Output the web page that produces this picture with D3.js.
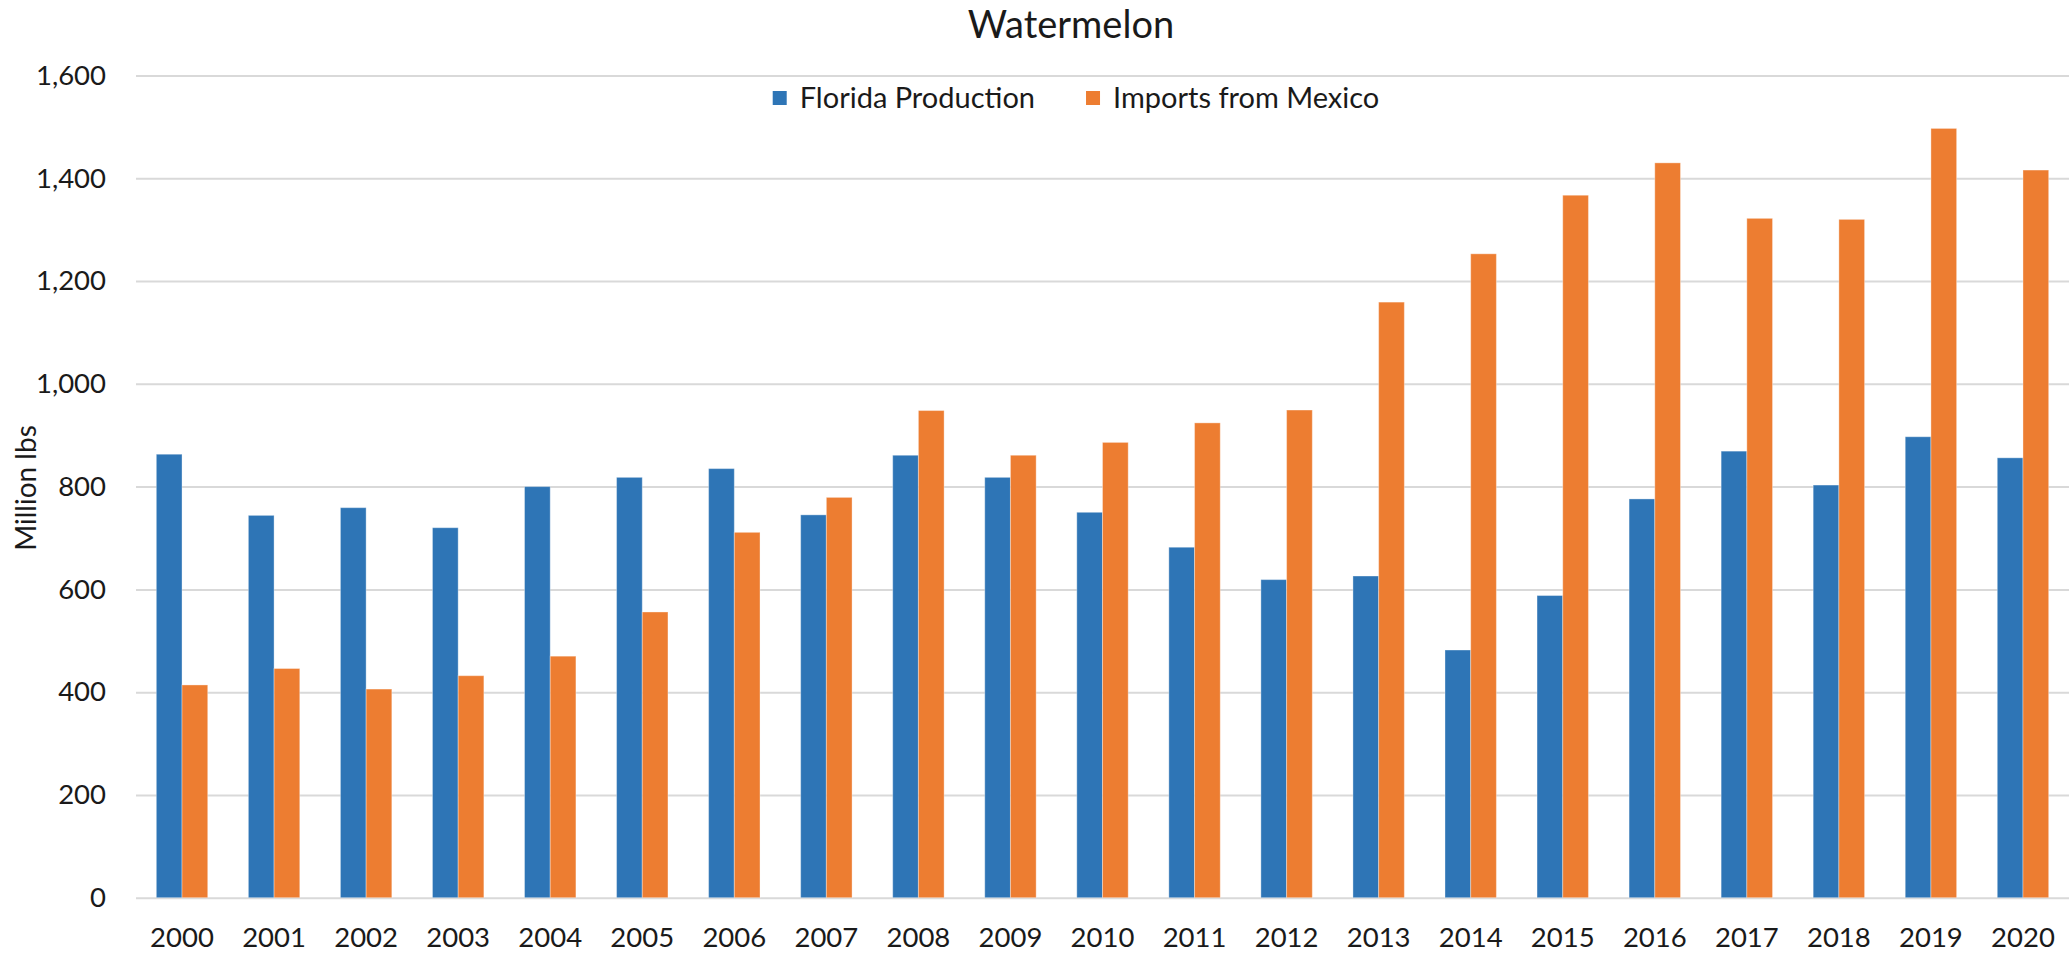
<!DOCTYPE html>
<html>
<head>
<meta charset="utf-8">
<script src="https://d3js.org/d3.v7.min.js"></script>
<title>Watermelon</title>
<style>
  body { margin: 0; background: #fff; }
  text { font-family: Lato, "Noto Sans", sans-serif; fill: #1a1a1a; }
  .grid line { stroke: #d9d9d9; stroke-width: 2; }
  .grid .domain { display: none; }
  .axis .domain { display: none; }
</style>
</head>
<body>
<div id="chart"></div>
<script>
var years = ["2000","2001","2002","2003","2004","2005","2006","2007","2008","2009","2010",
             "2011","2012","2013","2014","2015","2016","2017","2018","2019","2020"];
var floridaProduction = [863, 744, 759, 720, 800, 818, 835, 745, 861, 818, 750,
                         682, 619, 626, 482, 588, 776, 869, 803, 897, 856];
var importsMexico = [414, 446, 406, 432, 470, 556, 711, 779, 948, 861, 886,
                     924, 949, 1159, 1253, 1367, 1430, 1322, 1320, 1497, 1416];
var seriesNames = ["Florida Production", "Imports from Mexico"];
var seriesColours = ["#2e75b6", "#ed7d31"];
var yTicks = [0, 200, 400, 600, 800, 1000, 1200, 1400, 1600];

var width = 2069, height = 953;
var margin = { top: 75.5, right: 0, bottom: 55.3, left: 136 };

var rows = years.map(function (y, i) {
  return { year: y, values: [floridaProduction[i], importsMexico[i]] };
});

var svg = d3.select("#chart").append("svg")
  .attr("width", width)
  .attr("height", height);

var x = d3.scaleBand()
  .domain(years)
  .range([margin.left, width - margin.right])
  .paddingInner(0.4416)
  .paddingOuter(0.2208);

var xs = d3.scaleBand()
  .domain([0, 1])
  .range([0, x.bandwidth()]);

var y = d3.scaleLinear()
  .domain([0, 1600])
  .range([height - margin.bottom, margin.top]);

// gridlines
svg.append("g")
  .attr("class", "grid")
  .attr("transform", "translate(" + margin.left + ",0)")
  .call(d3.axisLeft(y).tickValues(yTicks).tickSize(-(width - margin.left - margin.right)).tickFormat(""));

// y axis labels
svg.append("g")
  .attr("class", "axis")
  .attr("transform", "translate(" + margin.left + ",0)")
  .call(d3.axisLeft(y).tickValues(yTicks).tickSize(0).tickPadding(30).tickFormat(d3.format(",")))
  .selectAll("text")
  .style("font-size", "27.5px")
  .style("fill", "#1a1a1a");

// x axis labels
svg.append("g")
  .attr("class", "axis")
  .attr("transform", "translate(0," + (height - margin.bottom) + ")")
  .call(d3.axisBottom(x).tickSize(0).tickPadding(30))
  .selectAll("text")
  .style("font-size", "27.5px")
  .style("fill", "#1a1a1a");

// bars
var group = svg.append("g")
  .selectAll("g")
  .data(rows)
  .enter()
  .append("g")
  .attr("transform", function (d) { return "translate(" + x(d.year) + ",0)"; });

group.selectAll("rect")
  .data(function (d) { return d.values; })
  .enter()
  .append("rect")
  .attr("x", function (d, i) { return xs(i); })
  .attr("y", function (d) { return y(d); })
  .attr("width", xs.bandwidth())
  .attr("height", function (d) { return y(0) - y(d); })
  .attr("fill", function (d, i) { return seriesColours[i]; })
  .attr("stroke", "#ffffff")
  .attr("stroke-opacity", 0.35)
  .attr("stroke-width", 1);

// title
svg.append("text")
  .attr("x", 1071)
  .attr("y", 38)
  .attr("text-anchor", "middle")
  .style("font-size", "38px")
  .text("Watermelon");

// y axis title
svg.append("text")
  .attr("transform", "translate(26,488) rotate(-90)")
  .attr("text-anchor", "middle")
  .attr("dy", "0.35em")
  .style("font-size", "28px")
  .text("Million lbs");

// legend
var legend = svg.append("g");
var item = legend.selectAll("g")
  .data(seriesNames)
  .enter()
  .append("g");

item.append("rect")
  .attr("width", 14)
  .attr("height", 14)
  .attr("y", -7)
  .attr("fill", function (d, i) { return seriesColours[i]; });

item.append("text")
  .attr("x", 27)
  .attr("dy", "0.36em")
  .style("font-size", "29px")
  .text(function (d) { return d; });

var offset = 0;
item.each(function () {
  d3.select(this).attr("transform", "translate(" + offset + ",0)");
  offset += this.getBBox().width + 51;
});
var legendWidth = offset - 51;
legend.attr("transform", "translate(" + (1076 - legendWidth / 2) + ",98)");
</script>
</body>
</html>
